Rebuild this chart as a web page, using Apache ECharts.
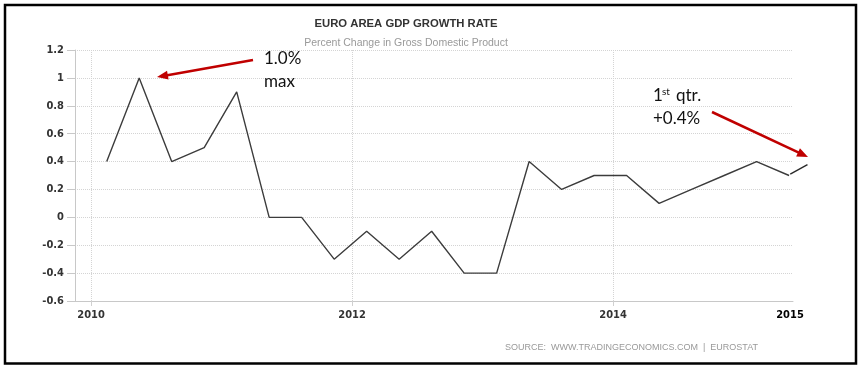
<!DOCTYPE html>
<html><head><meta charset="utf-8">
<script src="https://cdn.jsdelivr.net/npm/echarts@6/dist/echarts.min.js"></script>
<style>html,body{margin:0;padding:0;background:#fff}#c{width:862px;height:369px}</style>
</head><body><div id="c"></div>
<script>
// ---- data ----
const quarters = ['2010Q1','2010Q2','2010Q3','2010Q4','2011Q1','2011Q2','2011Q3','2011Q4',
  '2012Q1','2012Q2','2012Q3','2012Q4','2013Q1','2013Q2','2013Q3','2013Q4',
  '2014Q1','2014Q2','2014Q3','2014Q4','2015Q1','2015Q2'];
const quarterDates = [2010.120, 2010.369, 2010.618, 2010.867, 2011.116, 2011.365, 2011.614, 2011.863,
  2012.112, 2012.361, 2012.610, 2012.859, 2013.108, 2013.357, 2013.606, 2013.855,
  2014.104, 2014.353, 2014.602, 2014.851, 2015.100, 2015.349];
const growth = [0.4, 1.0, 0.4, 0.5, 0.9, 0.0, 0.0, -0.3,
  -0.1, -0.3, -0.1, -0.4, -0.4, 0.4, 0.2, 0.3,
  0.3, 0.1, 0.2, 0.3, 0.4, 0.3];
// hand-drawn continuation added on the reference (outside the plot)
const addedDates = [2015.358, 2015.490];
const addedValues = [0.31, 0.378];
const yTicks = [-0.6, -0.4, -0.2, 0, 0.2, 0.4, 0.6, 0.8, 1, 1.2];
const xTickYears = [2010, 2012, 2014];
const xEndYear = 2015.356;
const xEndLabel = '2015';
const titleText = 'EURO AREA GDP GROWTH RATE';
const subtitleText = 'Percent Change in Gross Domestic Product';
const sourceText = 'SOURCE:  WWW.TRADINGECONOMICS.COM  |  EUROSTAT';

const axisFont = "'DejaVu Sans Condensed', 'Liberation Sans', sans-serif";
const annFont = "Lato, 'Open Sans', sans-serif";
const RED = '#c00000';
const X_MIN = 2009.877, X_MAX = 2015.379, PLOT_W = 718, EXT_W = 745;
const X_MAX_EXT = X_MIN + (X_MAX - X_MIN) * EXT_W / PLOT_W;

function arrow(x1, y1, x2, y2) {
  const dx = x2 - x1, dy = y2 - y1, L = Math.hypot(dx, dy);
  const ux = dx / L, uy = dy / L, hl = 11, hw = 4.5;
  const bx = x2 - ux * hl, by = y2 - uy * hl;
  return [
    { type: 'line', shape: { x1: x1, y1: y1, x2: bx + ux * 2, y2: by + uy * 2 },
      style: { stroke: RED, lineWidth: 2.5 }, z: 100 },
    { type: 'polygon', shape: { points: [[x2, y2], [bx - uy * hw, by + ux * hw], [bx + uy * hw, by - ux * hw]] },
      style: { fill: RED }, z: 100 }
  ];
}
function txt(x, y, text, font, fill, align) {
  return { type: 'text', z: 100, style: { x: x, y: y, text: text, font: font, fill: fill,
    align: align || 'left', textAlign: align || 'left', verticalAlign: 'middle', textVerticalAlign: 'middle' } };
}

const chart = echarts.init(document.getElementById('c'), null, { renderer: 'canvas' });
chart.setOption({
  animation: false,
  backgroundColor: '#fff',
  grid: [
    { left: 75, top: 50, width: PLOT_W, height: 251, containLabel: false },
    { left: 75, top: 50, width: EXT_W, height: 251, containLabel: false }
  ],
  xAxis: [{
    type: 'value', min: X_MIN, max: X_MAX, gridIndex: 0,
    axisLine: { show: true, onZero: false, lineStyle: { color: '#c8c8c8', width: 1 } },
    axisTick: { show: true, customValues: xTickYears, length: 5, lineStyle: { color: '#d0d0d0' } },
    splitLine: { show: true, lineStyle: { color: '#d4d4d4', type: 'dotted', width: 1 } },
    axisLabel: {
      customValues: xTickYears.concat([xEndYear]), margin: 9,
      color: '#333', fontFamily: axisFont, fontSize: 11, fontWeight: 'bold',
      formatter: function (v) { return v > 2014.5 ? '{e|' + xEndLabel + '}' : String(Math.round(v)); },
      rich: { e: { color: '#000', fontFamily: axisFont, fontSize: 11, fontWeight: 'bold' } }
    }
  }, {
    type: 'value', min: X_MIN, max: X_MAX_EXT, gridIndex: 1, show: false,
    axisLine: { show: false }, axisTick: { show: false }, splitLine: { show: false }, axisLabel: { show: false }
  }],
  yAxis: [{
    type: 'value', min: yTicks[0], max: yTicks[yTicks.length - 1], interval: 0.2, gridIndex: 0,
    axisLine: { show: true, lineStyle: { color: '#c8c8c8', width: 1 } },
    axisTick: { show: true, length: 8, lineStyle: { color: '#c8c8c8' } },
    splitLine: { show: true, lineStyle: { color: '#d4d4d4', type: 'dotted', width: 1 } },
    axisLabel: {
      margin: 11, color: '#333', fontFamily: axisFont, fontSize: 11, fontWeight: 'bold',
      formatter: function (v) { return String(Math.round(v * 10) / 10); }
    }
  }, {
    type: 'value', min: yTicks[0], max: yTicks[yTicks.length - 1], interval: 0.2, gridIndex: 1, show: false,
    axisLine: { show: false }, axisTick: { show: false }, splitLine: { show: false }, axisLabel: { show: false }
  }],
  series: [
    { type: 'line', name: 'GDP growth', xAxisIndex: 0, yAxisIndex: 0,
      data: quarterDates.map(function (d, i) { return [d, growth[i]]; }),
      symbol: 'none', lineStyle: { color: '#3c3c3c', width: 1.4 }, z: 5 },
    { type: 'line', name: 'added', xAxisIndex: 1, yAxisIndex: 1,
      data: addedDates.map(function (d, i) { return [d, addedValues[i]]; }),
      symbol: 'none', lineStyle: { color: '#2a2a2a', width: 1.4 }, z: 5 }
  ],
  graphic: [
    { type: 'rect', shape: { x: 5, y: 5, width: 851, height: 358.5 }, style: { fill: 'none', stroke: '#000', lineWidth: 2.5 }, z: 200 },
    txt(406, 24, titleText, "bold 11.3px 'Liberation Sans', sans-serif", '#333', 'center'),
    txt(406, 43, subtitleText, "10.5px 'Liberation Sans', sans-serif", '#999', 'center'),
    txt(505, 348, sourceText, "9px 'Liberation Sans', sans-serif", '#999', 'left'),
    txt(264, 59, '1.0%', '17px ' + annFont, '#111', 'left'),
    txt(264, 82, 'max', '17px ' + annFont, '#111', 'left'),
    txt(653, 96, '1', '17px ' + annFont, '#111', 'left'),
    txt(662, 92, 'st', '10px ' + annFont, '#111', 'left'),
    txt(676, 96, 'qtr.', '17px ' + annFont, '#111', 'left'),
    txt(653, 119, '+0.4%', '17px ' + annFont, '#111', 'left')
  ].concat(arrow(253, 60, 157, 77)).concat(arrow(712, 112, 808, 157))
});
</script></body></html>
